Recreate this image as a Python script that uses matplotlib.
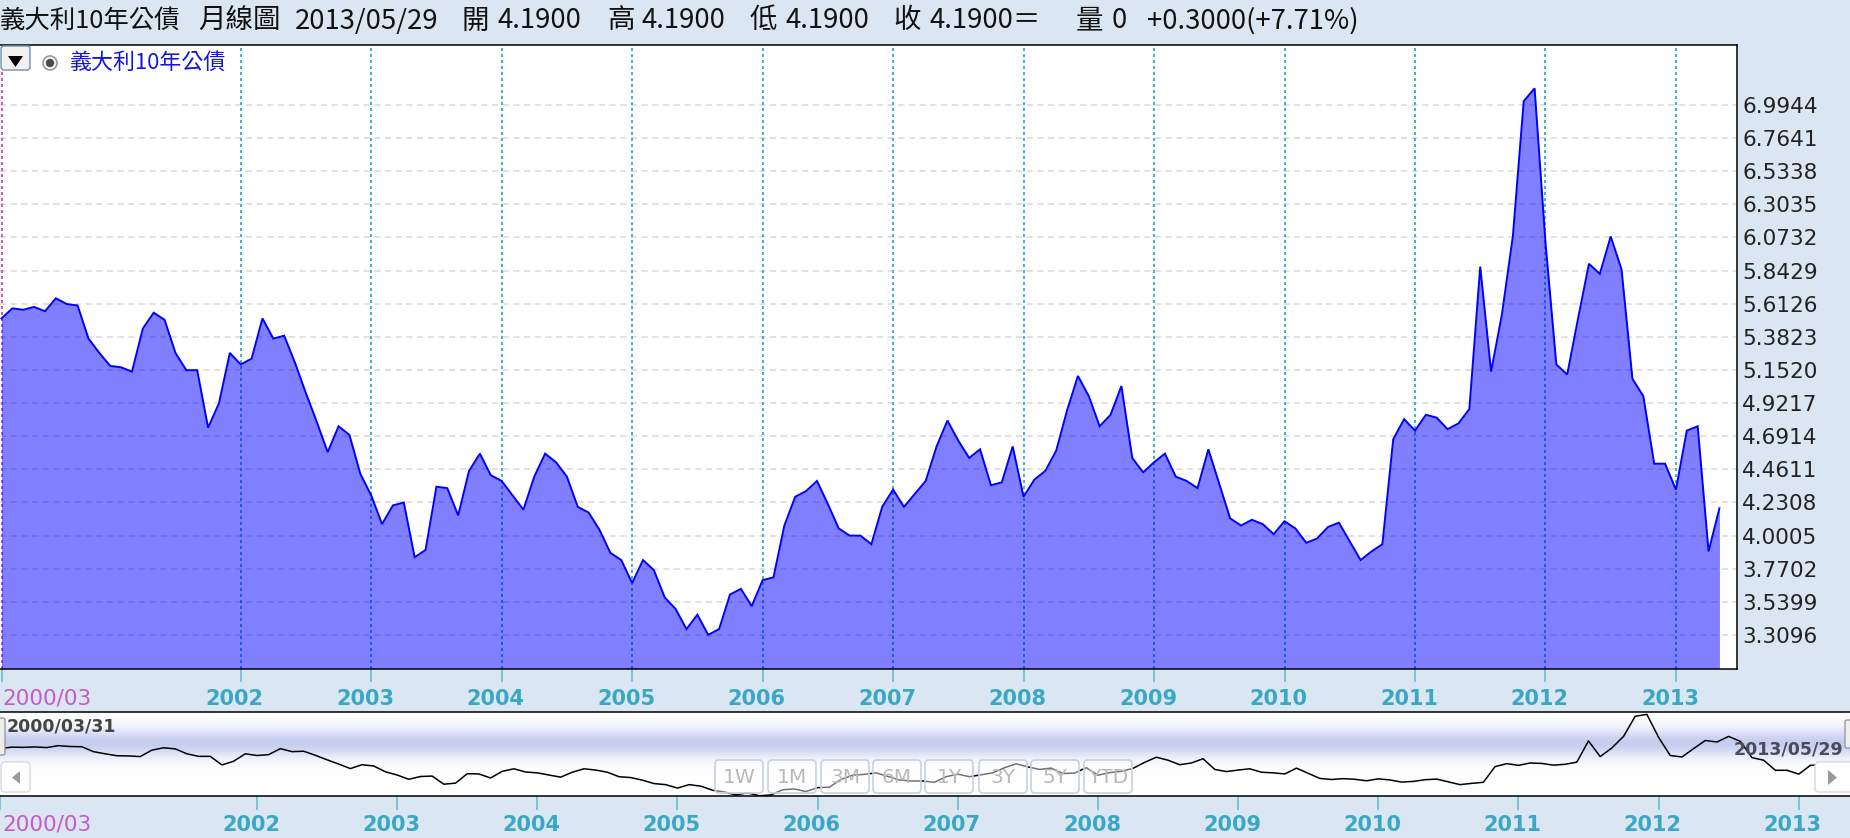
import numpy as np
import matplotlib
matplotlib.use('Agg')
import matplotlib.pyplot as plt
import matplotlib.transforms as mtransforms
from matplotlib.patches import FancyBboxPatch, Polygon, Circle

W, H, DPI = 1850, 838, 100

# ---------------- data (monthly, first = 2000/03, last = 2013/05) ----------------
yields = [5.51, 5.58, 5.57, 5.59, 5.56, 5.65, 5.61, 5.60, 5.37, 5.27,
          5.18, 5.17, 5.14, 5.44, 5.55, 5.50, 5.27, 5.15, 5.15, 4.75,
          4.92, 5.27, 5.19, 5.23, 5.51, 5.37, 5.39, 5.20, 4.99, 4.79,
          4.58, 4.76, 4.70, 4.43, 4.28, 4.08, 4.21, 4.23, 3.85, 3.90,
          4.34, 4.33, 4.14, 4.45, 4.57, 4.42, 4.38, 4.28, 4.18, 4.41,
          4.57, 4.51, 4.41, 4.20, 4.16, 4.04, 3.88, 3.83, 3.67, 3.83,
          3.76, 3.57, 3.49, 3.35, 3.45, 3.31, 3.35, 3.59, 3.63, 3.51,
          3.69, 3.71, 4.07, 4.27, 4.31, 4.38, 4.22, 4.05, 4.00, 4.00,
          3.94, 4.20, 4.32, 4.20, 4.29, 4.38, 4.62, 4.80, 4.66, 4.54,
          4.60, 4.35, 4.37, 4.62, 4.27, 4.39, 4.45, 4.59, 4.87, 5.11,
          4.97, 4.76, 4.84, 5.04, 4.54, 4.44, 4.51, 4.57, 4.41, 4.38,
          4.33, 4.60, 4.36, 4.12, 4.07, 4.11, 4.08, 4.01, 4.10, 4.05,
          3.95, 3.98, 4.06, 4.09, 3.96, 3.83, 3.89, 3.94, 4.67, 4.81,
          4.73, 4.84, 4.82, 4.74, 4.78, 4.88, 5.87, 5.14, 5.54, 6.08,
          7.02, 7.11, 6.04, 5.19, 5.12, 5.51, 5.89, 5.82, 6.08, 5.85,
          5.09, 4.97, 4.50, 4.50, 4.32, 4.73, 4.76, 3.89, 4.19]
months = list(range(len(yields)))          # month index, 0 = 2000/03

year_labels = ['2002', '2003', '2004', '2005', '2006', '2007',
               '2008', '2009', '2010', '2011', '2012', '2013']
year_idx = [22, 34, 46, 58, 70, 82, 94, 106, 118, 130, 142, 154]  # January of each year
start_label = '2000/03'

ytick_labels = ['3.3096', '3.5399', '3.7702', '4.0005', '4.2308', '4.4611',
                '4.6914', '4.9217', '5.1520', '5.3823', '5.6126', '5.8429',
                '6.0732', '6.3035', '6.5338', '6.7641', '6.9944']
ytick_vals = [float(s) for s in ytick_labels]

series_name = '義大利10年公債'
title_parts = ['義大利10年公債', '月線圖', '2013/05/29', '開', '4.1900', '高', '4.1900',
               '低', '4.1900', '收', '4.1900＝', '量', '0', '+0.3000(+7.71%)']
nav_start_label = '2000/03/31'
nav_end_label = '2013/05/29'
range_buttons = ['1W', '1M', '3M', '6M', '1Y', '3Y', '5Y', 'YTD']

# ---------------- styling ----------------
CJK = ['Noto Sans CJK TC', 'DejaVu Sans']
BG = '#dae6f1'
TEAL_LAB = '#3aa8c4'
TEAL_TICK = '#5cbdd0'
TEAL_GRID = '#45b4c8'
MAGENTA = '#c75ac7'

fig = plt.figure(figsize=(W / DPI, H / DPI), dpi=DPI, facecolor=BG)

def fy(py):
    return 1 - py / H

# overlay in pixel coordinates
ov = fig.add_axes([0, 0, 1, 1], zorder=10)
ov.set_xlim(0, W)
ov.set_ylim(H, 0)
ov.axis('off')
ov.patch.set_alpha(0)

# ---------------- main chart ----------------
top, bot, right = 45, 668.5, 1737
ax = fig.add_axes([0, fy(bot), right / W, (bot - top) / H], zorder=1)
ax.set_facecolor('white')
px_per_month = 10.873
x0 = -1.5 / px_per_month
ax.set_xlim(x0, x0 + right / px_per_month)
ymin, ymax = 3.076, 7.411
ax.set_ylim(ymin, ymax)

ax.set_axisbelow(True)
ax.set_yticks(ytick_vals)
ax.set_yticklabels(ytick_labels)
ax.yaxis.tick_right()
ax.tick_params(axis='y', length=0, pad=3.6, labelsize=15.5, labelcolor='#222222')
ax.grid(axis='y', color='#dcd8d2', lw=1.1, linestyle=(0, (4, 3)))

for i in year_idx:
    ax.axvline(i, color=TEAL_GRID, lw=1.44, linestyle=(0, (1.5, 1.5)), zorder=1)
ax.axvline(0, color=MAGENTA, lw=1.44, linestyle=(0, (1.5, 1.5)), zorder=1)

ax.fill_between(months, yields, ymin, color='#0000ff', alpha=0.5, lw=0, zorder=2)
ax.plot(months, yields, color='#0000ff', lw=1.4, zorder=3, solid_joinstyle='miter')

ax.set_xticks([0] + year_idx)
ax.tick_params(axis='x', length=9.4, width=1.1, color=TEAL_TICK, direction='out',
               labelbottom=False)
ax.xaxis.get_major_ticks()[0].tick1line.set_color(MAGENTA)
for s in ax.spines.values():
    s.set_color('black')
    s.set_linewidth(1.1)
ax.spines['left'].set_visible(False)

# ---------------- navigator ----------------
ntop, nbot = 712, 796
nav = fig.add_axes([0, fy(nbot), 1, (nbot - ntop) / H], zorder=1)
rows = np.arange(nbot - ntop)
a = np.exp(-((rows - 31) / 14.0) ** 2)
lav = np.array([198, 206, 240]) / 255.0
grad = 1 - a[:, None] * (1 - lav[None, :])
grad = np.repeat(grad[:, None, :], 2, axis=1)
nav.imshow(grad, extent=(0, 1, 0, 1), transform=nav.transAxes, aspect='auto',
           zorder=0, interpolation='bilinear')
nav.plot(months, yields, color='black', lw=1.1, zorder=2)
nav.set_xlim(0, W / 11.68)
nav.set_ylim(3.30, 7.22)
nav.set_yticks([])
nav.set_xticks([0] + year_idx)
nav.tick_params(axis='x', length=10, width=1.1, color=TEAL_TICK, direction='out',
                labelbottom=False)
nav.xaxis.get_major_ticks()[0].tick1line.set_color(MAGENTA)
for k in ['top', 'bottom']:
    nav.spines[k].set_color('black')
    nav.spines[k].set_linewidth(1.1)
for k in ['left', 'right']:
    nav.spines[k].set_visible(False)

# ---------------- x labels ----------------
def xlabel_row(axis, y_center):
    fs = 15
    em = fs * DPI / 72
    yb = y_center + 0.3645 * em
    tr = mtransforms.blended_transform_factory(axis.transData, ov.transData)
    off = mtransforms.ScaledTranslation(-6 / DPI, 0, fig.dpi_scale_trans)
    for i, lab in zip(year_idx, year_labels):
        ov.text(i, yb, lab, transform=tr + off, ha='center', va='baseline',
                fontsize=fs, fontweight='bold', color=TEAL_LAB, family='DejaVu Sans')
    ov.text(2, yb, start_label, ha='left', va='baseline', fontsize=15.5,
            color=MAGENTA, family='DejaVu Sans')

xlabel_row(ax, 697)
xlabel_row(nav, 823)

# ---------------- title bar ----------------
title_x = [0, 198, 295, 462, 498, 607, 641, 750, 786, 893, 929, 1076, 1112, 1147]
for k, (xp, seg) in enumerate(zip(title_x, title_parts)):
    fs = 18.3 if k == 0 else 19.8
    ov.text(xp, 21, seg, ha='left', va='center', fontsize=fs, color='#111111',
            family=CJK)

# ---------------- legend area ----------------
ov.add_patch(FancyBboxPatch((1, 46), 29, 24, boxstyle='round,pad=0,rounding_size=3',
                            fc='#f2f2f2', ec='#6f8fb5', lw=1.0))
ov.add_patch(Polygon([(8, 56), (23, 56), (15.5, 67)], closed=True, fc='black', ec='none'))
ov.add_patch(Circle((50, 63), 7, fc='#f6f6f6', ec='#9a9a9a', lw=1.2))
ov.add_patch(Circle((50, 63), 4.2, fc='#4a4a4a', ec='none'))
ov.text(70, 63, series_name, ha='left', va='center', fontsize=15.8, color='#1414e6',
        family=CJK)

# ---------------- navigator decorations ----------------
ov.add_patch(FancyBboxPatch((-3, 718), 8, 37, boxstyle='round,pad=0,rounding_size=2',
                            fc='#eeeeee', ec='#9a9a9a', lw=1.0))
ov.add_patch(FancyBboxPatch((1845, 720), 8, 28, boxstyle='round,pad=0,rounding_size=2',
                            fc='#eeeeee', ec='#9a9a9a', lw=1.0))
ov.text(7, 726, nav_start_label, ha='left', va='center', fontsize=12.5,
        fontweight='bold', color='#444444', family='DejaVu Sans')
ov.text(1843, 749, nav_end_label, ha='right', va='center', fontsize=12.5,
        fontweight='bold', color='#4a4a5a', family='DejaVu Sans')

# scroll buttons
ov.add_patch(FancyBboxPatch((1, 762), 29, 30, boxstyle='round,pad=0,rounding_size=4',
                            fc='#ffffff', ec='#d5dbe3', lw=1.0))
ov.add_patch(Polygon([(20, 771), (20, 784), (12, 777.5)], closed=True, fc='#9a9a9a', ec='none'))
ov.add_patch(FancyBboxPatch((1815, 762), 40, 30, boxstyle='round,pad=0,rounding_size=4',
                            fc='#ffffff', ec='#d5dbe3', lw=1.0))
ov.add_patch(Polygon([(1828, 770), (1828, 785), (1837, 777.5)], closed=True, fc='#9a9a9a', ec='none'))

# range buttons
btn_x = [715, 768, 821, 873, 925, 979, 1031, 1084]
for xb, lab in zip(btn_x, range_buttons):
    ov.add_patch(FancyBboxPatch((xb, 760), 48, 33, boxstyle='round,pad=0,rounding_size=4',
                                fc=(1, 1, 1, 0.45), ec='#c8d1dd', lw=1.2))
    ov.text(xb + 24, 777, lab, ha='center', va='center', fontsize=14.5,
            color='#b9b9b9', family='DejaVu Sans')

fig.savefig('out.png', dpi=DPI, facecolor=BG)
